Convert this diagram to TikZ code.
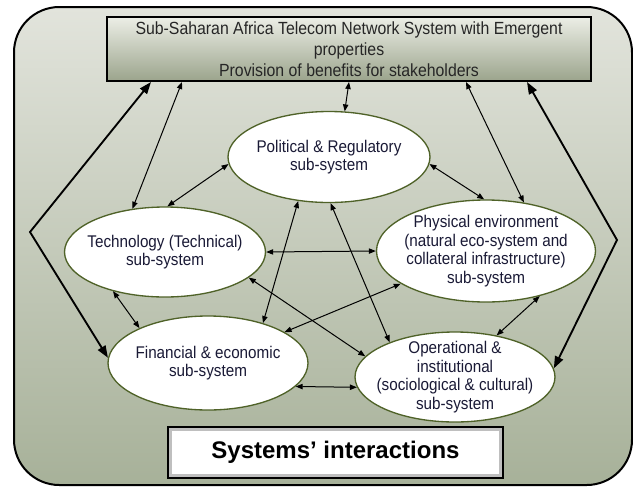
\documentclass[tikz,border=0pt]{standalone}
\usepackage{fontspec}
\setmainfont{Liberation Sans}
\newfontfamily\narrowsans[FakeStretch=0.9]{Liberation Sans}
\usetikzlibrary{shapes.geometric,arrows.meta}
\definecolor{panelink}{HTML}{1A1A36}
\definecolor{panelrim}{HTML}{4F6228}
\definecolor{paneltop}{HTML}{E2E4DC}
\definecolor{panelbot}{HTML}{A7B199}
\definecolor{headtop}{HTML}{ECEEE6}
\definecolor{headbot}{HTML}{9BA48C}

\begin{document}
\begin{tikzpicture}[
  x=0.75pt,
  y=-0.75pt,
  every node/.style={font=\narrowsans\fontsize{12.7}{13.9}\selectfont, text=panelink},
  subsys/.style={ellipse, draw=panelrim, line width=1pt, fill=white, inner sep=-12pt, align=center},
  link/.style={{Triangle[length=5.25pt,width=4pt]}-{Triangle[length=5.25pt,width=4pt]}, line width=0.75pt},
  biglink/.style={{Triangle[length=9pt,width=6.5pt]}-{Triangle[length=9pt,width=6.5pt]}, line width=1.4pt, line join=miter}
]
  \useasboundingbox (0,0) rectangle (633,487);

  \draw[line width=1.5pt, rounded corners=34pt, top color=paneltop, bottom color=panelbot] (14,7) rectangle (632,485);

  \node[draw=black, line width=1.5pt, top color=headtop, bottom color=headbot,
        minimum width=363pt, minimum height=48pt, align=center,
        font=\narrowsans\fontsize{13.2}{15.75}\selectfont, text=black!85] (top) at (349,49)
    {Sub-Saharan Africa Telecom Network System with Emergent\\properties\\Provision of benefits for stakeholders};

  \node[subsys, minimum width=151.5pt, minimum height=68.25pt] (pol) at (329,157) {Political \& Regulatory\\sub-system};
  \node[subsys, minimum width=150.75pt, minimum height=67.5pt] (tec) at (165,252) {Technology (Technical)\\sub-system};
  \node[subsys, minimum width=164.25pt, minimum height=76.5pt] (phy) at (486,251) {Physical environment\\(natural eco-system and\\collateral infrastructure)\\sub-system};
  \node[subsys, minimum width=150pt, minimum height=70.5pt] (fin) at (208,363) {Financial \& economic\\sub-system};
  \node[subsys, minimum width=150pt, minimum height=67.5pt] (ops) at (455,377) {Operational \&\\institutional\\(sociological \& cultural)\\sub-system};

  \node[draw=black, line width=1.8pt, fill=white, minimum width=251.25pt, minimum height=38.25pt,
        font=\fontsize{18}{22}\selectfont\bfseries, text=black] (sys) at (335.5,452.5) {Systems’ interactions};
  \draw[black!25, line width=2.5pt] ([shift={(3.5,3.5)}]sys.north west) rectangle ([shift={(-3.5,-3.5)}]sys.south east);

  \coordinate (lbend) at (30,232);
  \coordinate (rbend) at (617,240);

  \draw[biglink] ([xshift=33.75pt]top.south west) -- (lbend) -- (fin.177);
  \draw[biglink] ([xshift=-48.75pt]top.south east) -- (rbend) -- (ops.5);
  \draw[link] ([xshift=57pt]top.south west) -- (tec.127);
  \draw[link] (top.south) -- (pol.71);
  \draw[link] ([xshift=-94.5pt]top.south east) -- (phy.52);

  \draw[link] (pol.184) -- (tec.87);
  \draw[link] (pol.-4) -- (phy.92);
  \draw[link] (pol.235) -- (fin.36);
  \draw[link] (pol.-88) -- (ops.152);
  \draw[link] (tec.east) -- (phy.west);
  \draw[link] (tec.-17) -- (ops.167);
  \draw[link] (tec.217) -- (fin.153);
  \draw[link] (fin.22) -- (phy.201);
  \draw[link] (fin.-15) -- (ops.186);
  \draw[link] (phy.-40) -- (ops.45);
\end{tikzpicture}
\end{document}
